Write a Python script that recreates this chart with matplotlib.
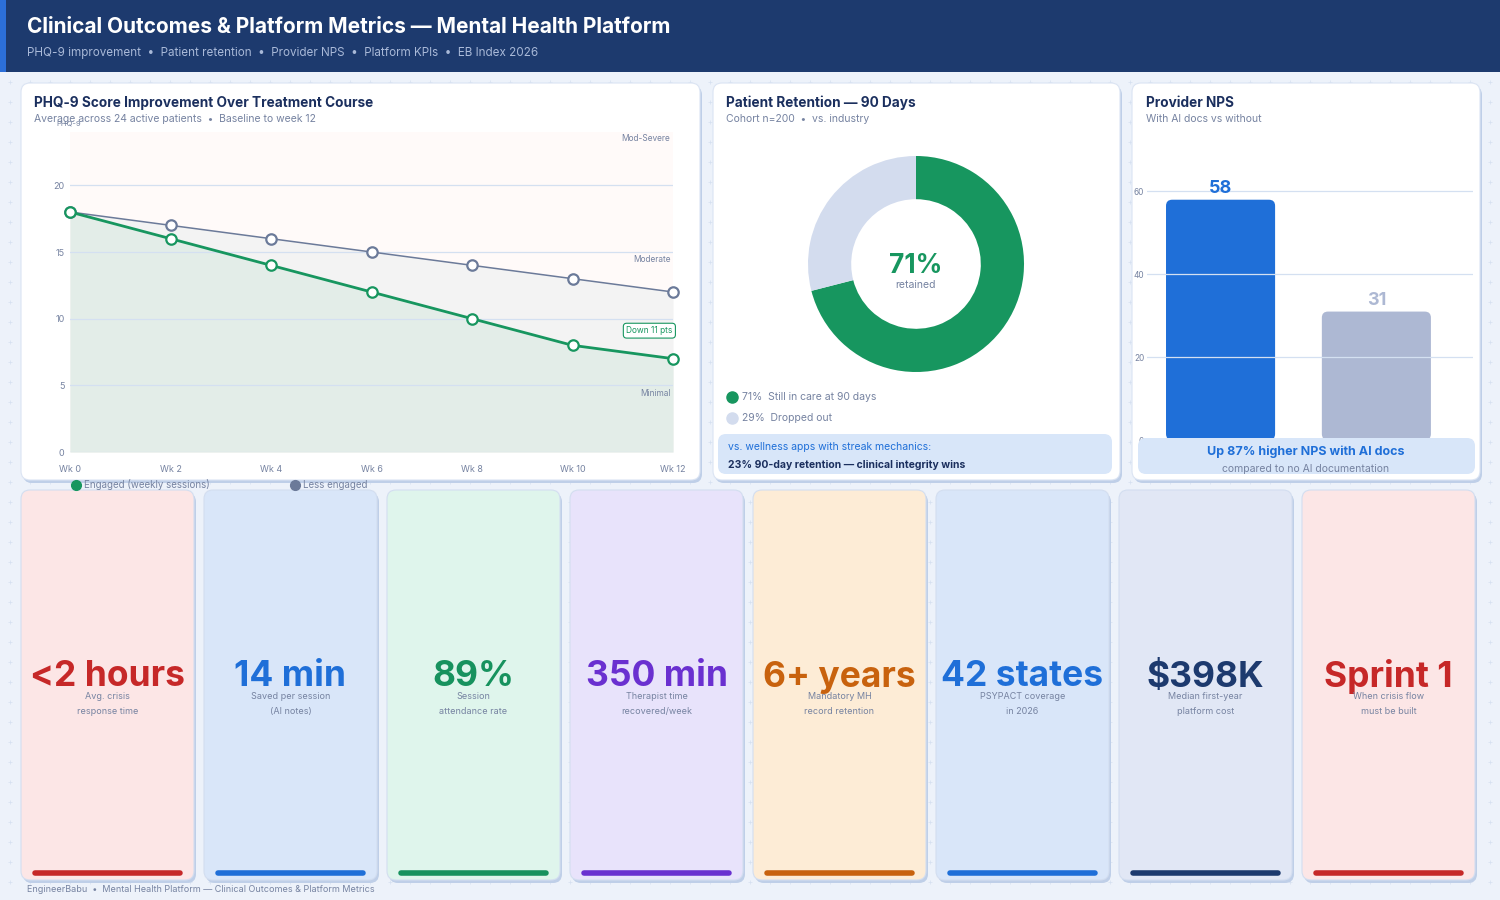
import numpy as np
import matplotlib.pyplot as plt
from matplotlib.patches import FancyBboxPatch, Rectangle

plt.rcParams['font.family'] = ['Inter', 'DejaVu Sans']

# ---- data ----
weeks = [0, 2, 4, 6, 8, 10, 12]
week_labels = ['Wk 0', 'Wk 2', 'Wk 4', 'Wk 6', 'Wk 8', 'Wk 10', 'Wk 12']
engaged = [18, 16, 14, 12, 10, 8, 7]
less_engaged = [18, 17, 16, 15, 14, 13, 12]
phq_ticks = [0, 5, 10, 15, 20]
band_names = ['Mod-Severe', 'Moderate', 'Minimal']
band_pos = [23.5, 14.4, 4.4]

retention_share = [71, 29]
retention_labels = ['Still in care at 90 days', 'Dropped out']

nps_groups = ['With AI docs', 'Without AI docs']
nps_values = [58, 31]
nps_ticks = [0, 20, 40, 60]

kpi_values = ['<2 hours', '14 min', '89%', '350 min', '6+ years', '42 states', r'\$398K', 'Sprint 1']
kpi_labels = ['Avg. crisis\nresponse time', 'Saved per session\n(AI notes)', 'Session\nattendance rate',
              'Therapist time\nrecovered/week', 'Mandatory MH\nrecord retention', 'PSYPACT coverage\nin 2026',
              'Median first-year\nplatform cost', 'When crisis flow\nmust be built']
kpi_colors = ['#c62828', '#1f6fd8', '#17925e', '#6a30d0', '#c8620e', '#1f6fd8', '#1d3a6e', '#c62828']
kpi_fills = ['#fce6e6', '#d9e6f9', '#dff5ec', '#e8e3fb', '#fdecd6', '#d9e6f9', '#e1e7f5', '#fce6e6']

NAVY = '#1b2f5e'
GRAY = '#7683a1'
GREEN = '#17965f'
SLATE = '#6b7a99'
BLUE = '#1f6fd8'
GRID = '#d4e0f1'

W, H = 1500, 900
fig = plt.figure(figsize=(15, 9), dpi=100)
fig.patch.set_facecolor('#edf2fa')

bg = fig.add_axes([0, 0, 1, 1], zorder=0)
bg.set_xlim(0, W)
bg.set_ylim(H, 0)
bg.axis('off')
fg = fig.add_axes([0, 0, 1, 1], zorder=5)
fg.set_xlim(0, W)
fg.set_ylim(H, 0)
fg.axis('off')


def px_axes(x0, y0, x1, y1, z=2):
    return fig.add_axes([x0 / W, 1 - y1 / H, (x1 - x0) / W, (y1 - y0) / H], zorder=z)


def card(ax, x, y, w, h, fc='white', ec='#dbe4f3', r=9):
    ax.add_patch(FancyBboxPatch((x + 2, y + 3), w, h, boxstyle=f'round,pad=0,rounding_size={r}',
                                fc='#bfcfe8', ec='none'))
    ax.add_patch(FancyBboxPatch((x, y), w, h, boxstyle=f'round,pad=0,rounding_size={r}',
                                fc=fc, ec=ec, lw=0.8))


# background plus pattern
gx, gy = np.meshgrid(np.arange(10, W, 20), np.arange(82, H, 20))
bg.scatter(gx.ravel(), gy.ravel(), marker='+', s=6, lw=0.5, color='#d6e0f0')

# header
bg.add_patch(Rectangle((0, 0), W, 72, fc='#1d3a6e', ec='none'))
bg.add_patch(Rectangle((0, 0), 6, 72, fc='#2c6fd9', ec='none'))
fg.text(27, 27, 'Clinical Outcomes & Platform Metrics \u2014 Mental Health Platform', color='white',
        fontsize=15, fontweight='bold', va='center')
fg.text(27, 53, 'PHQ-9 improvement  \u2022  Patient retention  \u2022  Provider NPS  \u2022  Platform KPIs  \u2022  EB Index 2026',
        color='#a9b9d8', fontsize=8.4, va='center')

# top cards
card(bg, 21, 83, 679, 397)
card(bg, 713, 83, 407, 397)
card(bg, 1132, 83, 348, 397)

for x, t, s in [(34, 'PHQ-9 Score Improvement Over Treatment Course',
                 'Average across 24 active patients  \u2022  Baseline to week 12'),
                (726, 'Patient Retention \u2014 90 Days', 'Cohort n=200  \u2022  vs. industry'),
                (1146, 'Provider NPS', 'With AI docs vs without')]:
    fg.text(x, 103, t, color=NAVY, fontsize=9.8, fontweight='bold', va='center')
    fg.text(x, 119, s, color=GRAY, fontsize=7.5, va='center')

# ---- line chart ----
ax1 = px_axes(70, 132, 673, 452)
ax1.set_facecolor('#fffaf9')
ax1.fill_between(weeks, 0, less_engaged, color='#f3f3f3', lw=0, zorder=1)
ax1.fill_between(weeks, 0, engaged, color='#e3ede8', lw=0, zorder=1.5)
for t in phq_ticks:
    ax1.axhline(t, color=GRID, lw=0.9, zorder=2)
ax1.plot(weeks, less_engaged, color=SLATE, lw=1.1, marker='o', ms=7.5, mfc='white', mec=SLATE,
         mew=1.6, zorder=3, clip_on=False)
ax1.plot(weeks, engaged, color=GREEN, lw=2.0, marker='o', ms=7.5, mfc='white', mec=GREEN,
         mew=1.6, zorder=4, clip_on=False)
ax1.set_xlim(0, 12)
ax1.set_ylim(0, 24)
ax1.set_xticks(weeks)
ax1.set_xticklabels(week_labels)
ax1.set_yticks(phq_ticks)
ax1.tick_params(length=0, labelsize=6.5, labelcolor=GRAY)
ax1.tick_params(axis='x', pad=9)
ax1.tick_params(axis='y', pad=4)
for sp in ax1.spines.values():
    sp.set_visible(False)
for name, yv in zip(band_names, band_pos):
    ax1.text(11.95, yv, name, ha='right', va='center', fontsize=6, color=GRAY, zorder=5)
drop = engaged[0] - engaged[-1]
ax1.text(11.53, 9.1, f'Down {drop} pts', ha='center', va='center', fontsize=6, color=GREEN, zorder=6,
         bbox=dict(boxstyle='round,pad=0.35,rounding_size=0.4', fc='white', ec=GREEN, lw=0.8), clip_on=False)
fg.text(56, 124, 'PHQ-9', fontsize=5.5, color=GRAY, va='center')

fg.plot([76], [485], 'o', ms=7, color=GREEN)
fg.text(84, 485, 'Engaged (weekly sessions)', fontsize=7, color=GRAY, va='center')
fg.plot([295], [485], 'o', ms=7, color=SLATE)
fg.text(303, 485, 'Less engaged', fontsize=7, color=GRAY, va='center')

# ---- donut ----
ax2 = px_axes(796, 144, 1036, 384)
ax2.pie(retention_share, colors=[GREEN, '#d3dcee'], startangle=90, counterclock=False,
        wedgeprops=dict(width=0.4, edgecolor='none'))
ax2.set_xlim(-1.111, 1.111)
ax2.set_ylim(-1.111, 1.111)
ax2.set_aspect('equal')
ax2.axis('off')
fg.text(916, 266, f'{retention_share[0]}%', color=GREEN, fontsize=19, fontweight='bold', ha='center', va='center')
fg.text(916, 285, 'retained', color=GRAY, fontsize=7.5, ha='center', va='center')

for yy, c, v, lab in zip([397, 418], [GREEN, '#d3dcee'], retention_share, retention_labels):
    fg.plot([732], [yy], 'o', ms=8, color=c)
    fg.text(742, yy, f'{v}%  {lab}', fontsize=7.5, color=GRAY, va='center')

fg.add_patch(FancyBboxPatch((718, 434), 394, 40, boxstyle='round,pad=0,rounding_size=8', fc='#d8e6f9', ec='none'))
fg.text(728, 447, 'vs. wellness apps with streak mechanics:', color=BLUE, fontsize=7.5, va='center')
fg.text(728, 465, '23% 90-day retention \u2014 clinical integrity wins', color=NAVY, fontsize=7.5,
        fontweight='bold', va='center')

# ---- NPS bars ----
ax3 = px_axes(1147, 150, 1473, 440)
ax3.patch.set_alpha(0)
bars = ax3.bar([0, 1], nps_values, width=0.7, color=[BLUE, '#adb8d3'])
ax3.set_xlim(-0.472, 1.62)
ax3.set_ylim(0, 70)
for b in bars:
    fc = b.get_facecolor()
    ax3.add_patch(FancyBboxPatch((b.get_x(), 0), b.get_width(), b.get_height(),
                                 boxstyle='round,pad=0,rounding_size=0.04', mutation_aspect=37,
                                 fc=fc, ec='none', zorder=2))
    b.remove()
for t in nps_ticks:
    ax3.axhline(t, color=GRID, lw=0.9, zorder=3)
for i, (v, c) in enumerate(zip(nps_values, [BLUE, '#adb8d3'])):
    ax3.text(i, v + 2.6, str(v), ha='center', va='center', fontsize=13, fontweight='bold', color=c, zorder=4)
ax3.set_xticks([])
ax3.set_yticks(nps_ticks)
ax3.tick_params(length=0, labelsize=6, labelcolor=GRAY, pad=2)
for sp in ax3.spines.values():
    sp.set_visible(False)

lift = round((nps_values[0] - nps_values[1]) / nps_values[1] * 100)
fg.add_patch(FancyBboxPatch((1138, 438), 337, 36, boxstyle='round,pad=0,rounding_size=8', fc='#d8e6f9', ec='none'))
fg.text(1306, 452, f'Up {lift}% higher NPS with AI docs', color=BLUE, fontsize=9, fontweight='bold',
        ha='center', va='center')
fg.text(1306, 469, 'compared to no AI documentation', color=GRAY, fontsize=7.5, ha='center', va='center')

# ---- KPI cards ----
for i, (val, lab, col, fill) in enumerate(zip(kpi_values, kpi_labels, kpi_colors, kpi_fills)):
    x = 21 + i * 183
    w = 173
    card(bg, x, 490, w, 390, fc=fill, ec='#d3def0', r=9)
    fg.text(x + w / 2, 677, val, color=col, fontsize=25.5, fontweight='bold', ha='center', va='center')
    fg.text(x + w / 2, 704, lab, color=GRAY, fontsize=6.5, ha='center', va='center', linespacing=1.75)
    fg.plot([x + 14, x + w - 14], [873, 873], color=col, lw=4, solid_capstyle='round')

fg.text(27, 889, 'EngineerBabu  \u2022  Mental Health Platform \u2014 Clinical Outcomes & Platform Metrics',
        fontsize=6.5, color=GRAY, va='center')

fig.savefig('out.png', dpi=100, facecolor=fig.get_facecolor())
